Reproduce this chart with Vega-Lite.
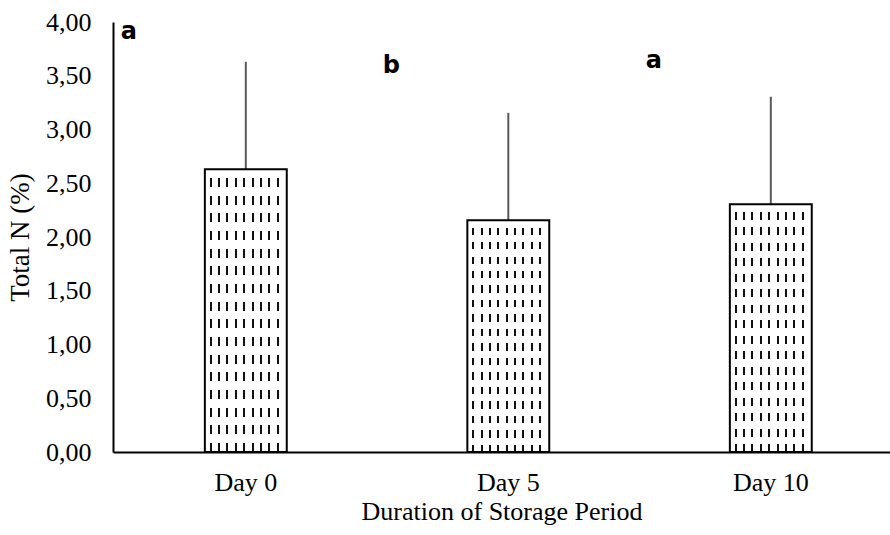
{
  "$schema": "https://vega.github.io/schema/vega-lite/v6.json",
  "width": 777,
  "height": 430,
  "autosize": {"type": "none"},
  "padding": {"left": 113, "top": 22, "right": 0, "bottom": 83},
  "background": "white",
  "config": {"view": {"stroke": null}},
  "data": {
    "values": [
      {"day": "Day 0", "value": 2.63, "upper": 3.63, "letter": "a", "letterY": 3.91},
      {"day": "Day 5", "value": 2.155, "upper": 3.155, "letter": "b", "letterY": 3.59},
      {"day": "Day 10", "value": 2.305, "upper": 3.305, "letter": "a", "letterY": 3.64}
    ]
  },
  "encoding": {
    "x": {
      "field": "day",
      "type": "nominal",
      "sort": ["Day 0", "Day 5", "Day 10"],
      "scale": {"paddingInner": 0.688, "paddingOuter": 0.324, "align": 0.54},
      "axis": {
        "title": "Duration of Storage Period",
        "labelAngle": 0,
        "labelFont": "Liberation Serif",
        "labelFontSize": 26,
        "labelColor": "#000",
        "labelPadding": 17,
        "ticks": false,
        "domainColor": "#000",
        "domainWidth": 2,
        "titleFont": "Liberation Serif",
        "titleFontSize": 26,
        "titleFontWeight": "normal",
        "titleColor": "#000",
        "titlePadding": 3
      }
    }
  },
  "layer": [
    {
      "mark": {
        "type": "rule",
        "color": "#595959",
        "strokeWidth": 2
      },
      "encoding": {
        "y": {"field": "value", "type": "quantitative"},
        "y2": {"field": "upper"}
      }
    },
    {
      "mark": {
        "type": "bar",
        "fill": {
          "gradient": "linear",
          "x1": 0, "y1": 0, "x2": 1, "y2": 0,
          "stops": [
            {"offset": 0, "color": "#ffffff"},
            {"offset": 0.06, "color": "#ffffff"},
            {"offset": 0.06, "color": "#111111"},
            {"offset": 0.084, "color": "#111111"},
            {"offset": 0.084, "color": "#ffffff"},
            {"offset": 0.162, "color": "#ffffff"},
            {"offset": 0.162, "color": "#111111"},
            {"offset": 0.186, "color": "#111111"},
            {"offset": 0.186, "color": "#ffffff"},
            {"offset": 0.264, "color": "#ffffff"},
            {"offset": 0.264, "color": "#111111"},
            {"offset": 0.288, "color": "#111111"},
            {"offset": 0.288, "color": "#ffffff"},
            {"offset": 0.366, "color": "#ffffff"},
            {"offset": 0.366, "color": "#111111"},
            {"offset": 0.39, "color": "#111111"},
            {"offset": 0.39, "color": "#ffffff"},
            {"offset": 0.468, "color": "#ffffff"},
            {"offset": 0.468, "color": "#111111"},
            {"offset": 0.492, "color": "#111111"},
            {"offset": 0.492, "color": "#ffffff"},
            {"offset": 0.57, "color": "#ffffff"},
            {"offset": 0.57, "color": "#111111"},
            {"offset": 0.594, "color": "#111111"},
            {"offset": 0.594, "color": "#ffffff"},
            {"offset": 0.672, "color": "#ffffff"},
            {"offset": 0.672, "color": "#111111"},
            {"offset": 0.696, "color": "#111111"},
            {"offset": 0.696, "color": "#ffffff"},
            {"offset": 0.774, "color": "#ffffff"},
            {"offset": 0.774, "color": "#111111"},
            {"offset": 0.798, "color": "#111111"},
            {"offset": 0.798, "color": "#ffffff"},
            {"offset": 0.876, "color": "#ffffff"},
            {"offset": 0.876, "color": "#111111"},
            {"offset": 0.9, "color": "#111111"},
            {"offset": 0.9, "color": "#ffffff"},
            {"offset": 1, "color": "#ffffff"}
          ]
        }
      },
      "encoding": {
        "y": {
          "field": "value",
          "type": "quantitative",
          "scale": {"domain": [0, 4], "nice": false},
          "axis": {
            "title": "Total N (%)",
            "values": [0, 0.5, 1, 1.5, 2, 2.5, 3, 3.5, 4],
            "labelExpr": "replace(format(datum.value, '.2f'), '.', ',')",
            "labelFont": "Liberation Serif",
            "labelFontSize": 26,
            "labelColor": "#000",
            "labelPadding": 22,
            "ticks": false,
            "grid": false,
            "domainColor": "#000",
            "domainWidth": 2,
            "titleFont": "Liberation Serif",
            "titleFontSize": 27,
            "titleFontWeight": "normal",
            "titleColor": "#000",
            "titlePadding": 11
          }
        }
      }
    },
    {
      "mark": {
        "type": "bar",
        "fill": {
          "gradient": "linear",
          "x1": 0, "y1": 0, "x2": 0, "y2": 1,
          "stops": [
            {"offset": 0, "color": "rgba(255,255,255,1)"},
            {"offset": 0.03125, "color": "rgba(255,255,255,1)"},
            {"offset": 0.03125, "color": "rgba(255,255,255,0)"},
            {"offset": 0.0625, "color": "rgba(255,255,255,0)"},
            {"offset": 0.0625, "color": "rgba(255,255,255,1)"},
            {"offset": 0.09375, "color": "rgba(255,255,255,1)"},
            {"offset": 0.09375, "color": "rgba(255,255,255,0)"},
            {"offset": 0.125, "color": "rgba(255,255,255,0)"},
            {"offset": 0.125, "color": "rgba(255,255,255,1)"},
            {"offset": 0.15625, "color": "rgba(255,255,255,1)"},
            {"offset": 0.15625, "color": "rgba(255,255,255,0)"},
            {"offset": 0.1875, "color": "rgba(255,255,255,0)"},
            {"offset": 0.1875, "color": "rgba(255,255,255,1)"},
            {"offset": 0.21875, "color": "rgba(255,255,255,1)"},
            {"offset": 0.21875, "color": "rgba(255,255,255,0)"},
            {"offset": 0.25, "color": "rgba(255,255,255,0)"},
            {"offset": 0.25, "color": "rgba(255,255,255,1)"},
            {"offset": 0.28125, "color": "rgba(255,255,255,1)"},
            {"offset": 0.28125, "color": "rgba(255,255,255,0)"},
            {"offset": 0.3125, "color": "rgba(255,255,255,0)"},
            {"offset": 0.3125, "color": "rgba(255,255,255,1)"},
            {"offset": 0.34375, "color": "rgba(255,255,255,1)"},
            {"offset": 0.34375, "color": "rgba(255,255,255,0)"},
            {"offset": 0.375, "color": "rgba(255,255,255,0)"},
            {"offset": 0.375, "color": "rgba(255,255,255,1)"},
            {"offset": 0.40625, "color": "rgba(255,255,255,1)"},
            {"offset": 0.40625, "color": "rgba(255,255,255,0)"},
            {"offset": 0.4375, "color": "rgba(255,255,255,0)"},
            {"offset": 0.4375, "color": "rgba(255,255,255,1)"},
            {"offset": 0.46875, "color": "rgba(255,255,255,1)"},
            {"offset": 0.46875, "color": "rgba(255,255,255,0)"},
            {"offset": 0.5, "color": "rgba(255,255,255,0)"},
            {"offset": 0.5, "color": "rgba(255,255,255,1)"},
            {"offset": 0.53125, "color": "rgba(255,255,255,1)"},
            {"offset": 0.53125, "color": "rgba(255,255,255,0)"},
            {"offset": 0.5625, "color": "rgba(255,255,255,0)"},
            {"offset": 0.5625, "color": "rgba(255,255,255,1)"},
            {"offset": 0.59375, "color": "rgba(255,255,255,1)"},
            {"offset": 0.59375, "color": "rgba(255,255,255,0)"},
            {"offset": 0.625, "color": "rgba(255,255,255,0)"},
            {"offset": 0.625, "color": "rgba(255,255,255,1)"},
            {"offset": 0.65625, "color": "rgba(255,255,255,1)"},
            {"offset": 0.65625, "color": "rgba(255,255,255,0)"},
            {"offset": 0.6875, "color": "rgba(255,255,255,0)"},
            {"offset": 0.6875, "color": "rgba(255,255,255,1)"},
            {"offset": 0.71875, "color": "rgba(255,255,255,1)"},
            {"offset": 0.71875, "color": "rgba(255,255,255,0)"},
            {"offset": 0.75, "color": "rgba(255,255,255,0)"},
            {"offset": 0.75, "color": "rgba(255,255,255,1)"},
            {"offset": 0.78125, "color": "rgba(255,255,255,1)"},
            {"offset": 0.78125, "color": "rgba(255,255,255,0)"},
            {"offset": 0.8125, "color": "rgba(255,255,255,0)"},
            {"offset": 0.8125, "color": "rgba(255,255,255,1)"},
            {"offset": 0.84375, "color": "rgba(255,255,255,1)"},
            {"offset": 0.84375, "color": "rgba(255,255,255,0)"},
            {"offset": 0.875, "color": "rgba(255,255,255,0)"},
            {"offset": 0.875, "color": "rgba(255,255,255,1)"},
            {"offset": 0.90625, "color": "rgba(255,255,255,1)"},
            {"offset": 0.90625, "color": "rgba(255,255,255,0)"},
            {"offset": 0.9375, "color": "rgba(255,255,255,0)"},
            {"offset": 0.9375, "color": "rgba(255,255,255,1)"},
            {"offset": 0.96875, "color": "rgba(255,255,255,1)"},
            {"offset": 0.96875, "color": "rgba(255,255,255,0)"},
            {"offset": 1, "color": "rgba(255,255,255,0)"}
          ]
        }
      },
      "encoding": {
        "y": {"field": "value", "type": "quantitative"}
      }
    },
    {
      "mark": {
        "type": "bar",
        "fill": null,
        "fillOpacity": 0,
        "stroke": "#000",
        "strokeWidth": 2
      },
      "encoding": {
        "y": {"field": "value", "type": "quantitative"}
      }
    },
    {
      "mark": {
        "type": "text",
        "font": "DejaVu Sans",
        "fontWeight": "bold",
        "fontSize": 24,
        "dx": -117,
        "align": "center",
        "baseline": "middle",
        "color": "#000"
      },
      "encoding": {
        "y": {"field": "letterY", "type": "quantitative"},
        "text": {"field": "letter"}
      }
    }
  ]
}
